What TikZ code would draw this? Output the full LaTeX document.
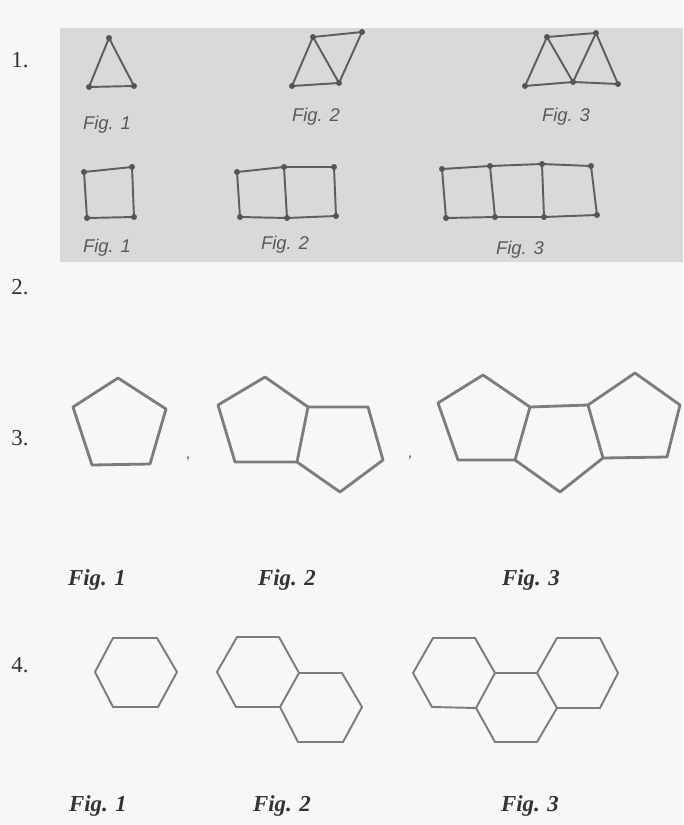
\documentclass[tikz,border=0pt]{standalone}
\usepackage{fontspec}
\setmainfont{Liberation Serif}
\newfontfamily\figsans{Liberation Sans}
\definecolor{pagebg}{HTML}{F7F7F7}
\definecolor{bandgray}{HTML}{D9D9D9}
\definecolor{stickgray}{HTML}{5E5E5E}
\definecolor{shapegray}{HTML}{7C7C7C}

\begin{document}
\begin{tikzpicture}[
    x=0.02cm, y=-0.02cm,
    % Styles for the sticks and labels
    stick/.style={draw=stickgray, line width=1.1pt, line cap=round},
    head/.style={fill=stickgray!90!black},
    pent/.style={draw=shapegray, line width=1.6pt, line join=round, line cap=round},
    hexa/.style={draw=shapegray, line width=1.1pt, line join=round, line cap=round},
    num/.style={font=\fontsize{13}{13}\selectfont, text=black!80},
    sanslabel/.style={font=\figsans\itshape\fontsize{10.5}{10.5}\selectfont, text=black!65},
    seriflabel/.style={font=\bfseries\itshape\fontsize{13}{13}\selectfont, text=black!80}
]

    \useasboundingbox (0,0) rectangle (683,825);
    \fill[pagebg] (0,0) rectangle (683,825);
    \fill[bandgray] (60,28) rectangle (683,262);

    % Numbers
    \node (n1) [num] at (20,60) {1.};
    \node (n2) [num] at (20,287) {2.};
    \node (n3) [num] at (20,438) {3.};
    \node (n4) [num] at (20,665) {4.};

    % 1. triangles
    \coordinate (t1a) at (109,38);
    \coordinate (t1b) at (89,87);
    \coordinate (t1c) at (134,86);
    \draw [stick] (t1a) -- (t1b) -- (t1c) -- cycle;

    \coordinate (t2a) at (313,37);
    \coordinate (t2b) at (362,32);
    \coordinate (t2c) at (292,86);
    \coordinate (t2d) at (339,83);
    \draw [stick] (t2c) -- (t2a) -- (t2d) -- (t2c);
    \draw [stick] (t2a) -- (t2b) -- (t2d);

    \coordinate (t3a) at (547,37);
    \coordinate (t3b) at (596,33);
    \coordinate (t3c) at (525,86);
    \coordinate (t3d) at (573,82);
    \coordinate (t3e) at (618,84);
    \draw [stick] (t3c) -- (t3a) -- (t3d) -- (t3c);
    \draw [stick] (t3a) -- (t3b) -- (t3d) -- (t3e) -- (t3b);

    \foreach \v in {t1a,t1b,t1c,t2a,t2b,t2c,t2d,t3a,t3b,t3c,t3d,t3e}
        \fill [head] (\v) circle (1.7pt);

    \node (f1a) [sanslabel] at (107,125) {Fig. 1};
    \node (f1b) [sanslabel] at (316,117) {Fig. 2};
    \node (f1c) [sanslabel] at (566,117) {Fig. 3};

    % 1. squares
    \coordinate (s1a) at (84,172);
    \coordinate (s1b) at (132,167);
    \coordinate (s1c) at (87,218);
    \coordinate (s1d) at (134,217);
    \draw [stick] (s1a) -- (s1b) -- (s1d) -- (s1c) -- cycle;

    \coordinate (s2a) at (237,172);
    \coordinate (s2b) at (284,167);
    \coordinate (s2c) at (334,167);
    \coordinate (s2d) at (240,217);
    \coordinate (s2e) at (287,218);
    \coordinate (s2f) at (336,216);
    \draw [stick] (s2a) -- (s2b) -- (s2c) -- (s2f) -- (s2e) -- (s2d) -- cycle;
    \draw [stick] (s2b) -- (s2e);

    \coordinate (s3a) at (442,169);
    \coordinate (s3b) at (490,166);
    \coordinate (s3c) at (542,164);
    \coordinate (s3d) at (591,166);
    \coordinate (s3e) at (446,218);
    \coordinate (s3f) at (495,217);
    \coordinate (s3g) at (544,217);
    \coordinate (s3h) at (597,215);
    \draw [stick] (s3a) -- (s3b) -- (s3c) -- (s3d) -- (s3h) -- (s3g) -- (s3f) -- (s3e) -- cycle;
    \draw [stick] (s3b) -- (s3f);
    \draw [stick] (s3c) -- (s3g);

    \foreach \v in {s1a,s1b,s1c,s1d,s2a,s2b,s2c,s2d,s2e,s2f,s3a,s3b,s3c,s3d,s3e,s3f,s3g,s3h}
        \fill [head] (\v) circle (1.7pt);

    \node (f2a) [sanslabel] at (107,248) {Fig. 1};
    \node (f2b) [sanslabel] at (285,245) {Fig. 2};
    \node (f2c) [sanslabel] at (520,250) {Fig. 3};

    % 3. pentagons
    \coordinate (p1a) at (118,378);
    \coordinate (p1b) at (166,409);
    \coordinate (p1c) at (150,464);
    \coordinate (p1d) at (92,465);
    \coordinate (p1e) at (73,407);
    \draw [pent] (p1a) -- (p1b) -- (p1c) -- (p1d) -- (p1e) -- cycle;

    \coordinate (p2a) at (265,377);
    \coordinate (p2b) at (308,407);
    \coordinate (p2c) at (297,462);
    \coordinate (p2d) at (235,462);
    \coordinate (p2e) at (218,405);
    \coordinate (p2f) at (368,407);
    \coordinate (p2g) at (383,460);
    \coordinate (p2h) at (340,492);
    \draw [pent] (p2a) -- (p2b) -- (p2c) -- (p2d) -- (p2e) -- cycle;
    \draw [pent] (p2b) -- (p2f) -- (p2g) -- (p2h) -- (p2c);

    \coordinate (p3a) at (483,375);
    \coordinate (p3b) at (530,407);
    \coordinate (p3c) at (515,460);
    \coordinate (p3d) at (458,460);
    \coordinate (p3e) at (438,403);
    \coordinate (p3f) at (588,405);
    \coordinate (p3g) at (603,458);
    \coordinate (p3h) at (560,492);
    \coordinate (p3i) at (635,373);
    \coordinate (p3j) at (680,405);
    \coordinate (p3k) at (667,457);
    \draw [pent] (p3a) -- (p3b) -- (p3c) -- (p3d) -- (p3e) -- cycle;
    \draw [pent] (p3b) -- (p3f) -- (p3g) -- (p3h) -- (p3c);
    \draw [pent] (p3f) -- (p3i) -- (p3j) -- (p3k) -- (p3g);

    \node (c1) [font=\small, text=black!60] at (188,459) {,};
    \node (c2) [font=\small, text=black!60] at (410,458) {,};

    \node (f3a) [seriflabel] at (97,580) {Fig. 1};
    \node (f3b) [seriflabel] at (287,580) {Fig. 2};
    \node (f3c) [seriflabel] at (531,580) {Fig. 3};

    % 4. hexagons
    \coordinate (h1a) at (113,638);
    \coordinate (h1b) at (157,638);
    \coordinate (h1c) at (177,672);
    \coordinate (h1d) at (158,707);
    \coordinate (h1e) at (113,707);
    \coordinate (h1f) at (95,672);
    \draw [hexa] (h1a) -- (h1b) -- (h1c) -- (h1d) -- (h1e) -- (h1f) -- cycle;

    \coordinate (h2a) at (237,637);
    \coordinate (h2b) at (279,637);
    \coordinate (h2c) at (299,673);
    \coordinate (h2d) at (280,707);
    \coordinate (h2e) at (236,707);
    \coordinate (h2f) at (217,672);
    \coordinate (h2g) at (342,673);
    \coordinate (h2h) at (362,707);
    \coordinate (h2i) at (343,742);
    \coordinate (h2j) at (298,742);
    \draw [hexa] (h2a) -- (h2b) -- (h2c) -- (h2d) -- (h2e) -- (h2f) -- cycle;
    \draw [hexa] (h2c) -- (h2g) -- (h2h) -- (h2i) -- (h2j) -- (h2d);

    \coordinate (h3a) at (433,638);
    \coordinate (h3b) at (475,638);
    \coordinate (h3c) at (495,673);
    \coordinate (h3d) at (476,708);
    \coordinate (h3e) at (432,707);
    \coordinate (h3f) at (413,673);
    \coordinate (h3g) at (557,638);
    \coordinate (h3h) at (600,638);
    \coordinate (h3i) at (618,673);
    \coordinate (h3j) at (600,708);
    \coordinate (h3k) at (557,708);
    \coordinate (h3l) at (537,673);
    \coordinate (h3m) at (537,742);
    \coordinate (h3n) at (495,742);
    \draw [hexa] (h3a) -- (h3b) -- (h3c) -- (h3d) -- (h3e) -- (h3f) -- cycle;
    \draw [hexa] (h3g) -- (h3h) -- (h3i) -- (h3j) -- (h3k) -- (h3l) -- cycle;
    \draw [hexa] (h3c) -- (h3l);
    \draw [hexa] (h3k) -- (h3m) -- (h3n) -- (h3d);

    \node (f4a) [seriflabel] at (98,806) {Fig. 1};
    \node (f4b) [seriflabel] at (282,806) {Fig. 2};
    \node (f4c) [seriflabel] at (530,806) {Fig. 3};

\end{tikzpicture}
\end{document}
